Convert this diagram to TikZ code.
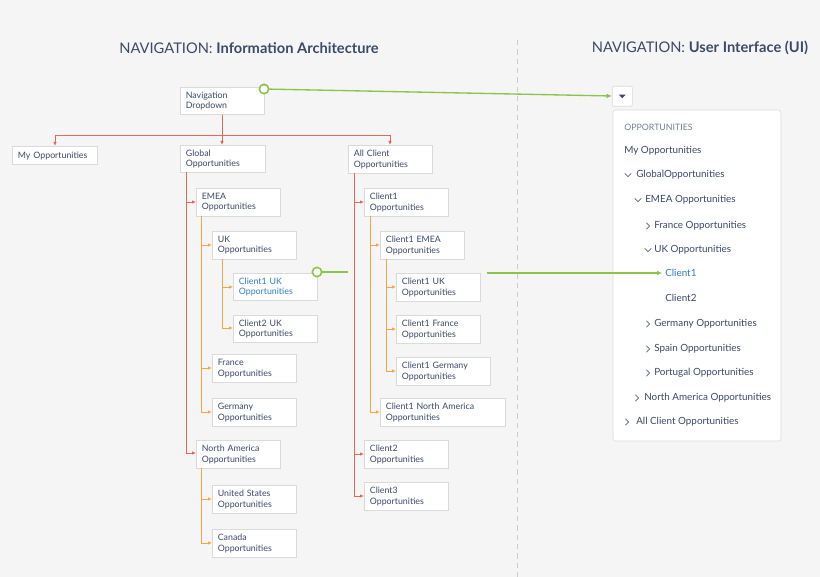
\documentclass[tikz,border=0pt]{standalone}
\usepackage{fontspec}
\setmainfont{Lato}
\newfontfamily\dejavu{DejaVu Sans}
\usetikzlibrary{arrows.meta}
\definecolor{bg}{HTML}{F5F5F5}
\definecolor{txt}{HTML}{3B4A66}
\definecolor{bl}{HTML}{2F7FC8}
\definecolor{rd}{HTML}{E2685A}
\definecolor{org}{HTML}{F3A64A}
\definecolor{grn}{HTML}{8CC34A}
\definecolor{bd}{HTML}{DADADA}
\begin{document}
\begin{tikzpicture}[x=0.75pt,y=-0.75pt,
 box/.style={draw=bd,line width=0.8pt,fill=white,anchor=north west,inner xsep=4pt,inner ysep=0pt,
   align=left,font=\fontsize{6.6}{7.6}\selectfont,text=txt,minimum height=20pt},
 rl/.style={draw=rd,line width=0.7pt},
 ol/.style={draw=org,line width=0.7pt},
 ra/.style={rl,-{Latex[length=3pt,width=2.6pt]}},
 oa/.style={ol,-{Latex[length=3pt,width=2.6pt]}},
 ga/.style={draw=grn,line width=1pt,-{Latex[length=4pt,width=3.5pt]}},
 gc/.style={circle,draw=grn,line width=1.2pt,fill=white,inner sep=0pt,minimum size=7pt},
 pt/.style={anchor=west,font=\fontsize{7.4}{8}\selectfont,text=txt,inner sep=0pt},
 chv/.style={draw=txt!85,line width=0.5pt},
 ttl/.style={font=\fontsize{11}{13}\selectfont,text=txt}]
\fill[bg] (0,0) rectangle (820,577);
\useasboundingbox (0,0) rectangle (820,577);
\draw[gray!40,dash pattern=on 4pt off 3pt,line width=0.6pt] (517,40) -- (517,577);
\node[ttl] (t1) at (249,48) {NAVIGATION: \textbf{Information Architecture}};
\node[ttl] (t2) at (700,48) {NAVIGATION: \textbf{User Interface (UI)}};
% boxes
\newcommand\bx[6]{\node[box,minimum width=#4*0.75pt,minimum height=#5*0.75pt,text width=#4*0.75pt-8pt] (#1) at (#2,#3) {#6};}
\newcommand\chr[2]{\draw[chv] (#1-1.6,#2-3.2) -- (#1+1.6,#2) -- (#1-1.6,#2+3.2);}
\newcommand\chd[2]{\draw[chv] (#1-3.2,#2-1.6) -- (#1,#2+1.6) -- (#1+3.2,#2-1.6);}
\bx{nav}{180}{87}{84}{27}{Navigation\\Dropdown}
\bx{my}{12}{146}{85}{18}{My Opportunities}
\bx{glob}{180}{145}{85}{27}{Global\\Opportunities}
\bx{allc}{348}{145}{84}{28}{All Client\\Opportunities}
\bx{emea}{196}{188}{84}{28}{EMEA\\Opportunities}
\bx{uk}{212}{231}{84}{28}{UK\\Opportunities}
\node[box,minimum width=63pt,minimum height=20.25pt,text width=55pt,text=bl] (c1uk) at (233,273) {Client1 UK\\Opportunities};
\bx{c2uk}{233}{315}{84}{27}{Client2 UK\\Opportunities}
\bx{fr}{212}{354}{84}{28}{France\\Opportunities}
\bx{ge}{212}{398}{84}{28}{Germany\\Opportunities}
\bx{na}{196}{440}{84}{28}{North America\\Opportunities}
\bx{us}{212}{485}{84}{28}{United States\\Opportunities}
\bx{ca}{212}{529}{84}{28}{Canada\\Opportunities}
\bx{c1}{364}{188}{84}{28}{Client1\\Opportunities}
\bx{c1e}{380}{231}{84}{28}{Client1 EMEA\\Opportunities}
\bx{c1u}{396}{273}{84}{28}{Client1 UK\\Opportunities}
\bx{c1f}{396}{315}{84}{28}{Client1 France\\Opportunities}
\bx{c1g}{396}{357}{94}{28}{Client1 Germany\\Opportunities}
\bx{c1n}{380}{398}{125}{28}{Client1 North America\\Opportunities}
\bx{c2}{364}{440}{84}{28}{Client2\\Opportunities}
\bx{c3}{364}{482}{84}{28}{Client3\\Opportunities}
% red top tree
\coordinate (h) at (222,135);
\draw[rl] (nav.south -| h) -- (h);
\draw[rl] (55,135) -- (390,135);
\draw[ra] (55,135) -- (my.north -| 55,0);
\draw[ra] (h) -- (glob.north -| h);
\draw[ra] (390,135) -- (allc.north -| 390,0);
% global
\draw[rl] (186,172) -- (186,453);
\draw[ra] (186,202) -- (emea.west |- 0,202);
\draw[ra] (186,453) -- (na.west |- 0,453);
\draw[ol] (201,216) -- (201,412);
\foreach \y/\n in {245/uk,368/fr,412/ge} \draw[oa] (201,\y) -- (\n.west |- 0,\y);
\draw[ol] (222,259) -- (222,328);
\foreach \y/\n in {287/c1uk,328/c2uk} \draw[oa] (222,\y) -- (\n.west |- 0,\y);
\draw[ol] (201,468) -- (201,543);
\foreach \y/\n in {499/us,543/ca} \draw[oa] (201,\y) -- (\n.west |- 0,\y);
% all client
\draw[rl] (354,173) -- (354,496);
\foreach \y/\n in {202/c1,454/c2,496/c3} \draw[ra] (354,\y) -- (\n.west |- 0,\y);
\draw[ol] (370,216) -- (370,412);
\foreach \y/\n in {245/c1e,412/c1n} \draw[oa] (370,\y) -- (\n.west |- 0,\y);
\draw[ol] (386,259) -- (386,371);
\foreach \y/\n in {287/c1u,329/c1f,371/c1g} \draw[oa] (386,\y) -- (\n.west |- 0,\y);
% UI panel
\node[draw=bd,fill=white,rounded corners=1pt,minimum width=15pt,minimum height=15pt,inner sep=0pt,anchor=north west] (btn) at (612,86) {};
\fill[txt] ([xshift=-2.5pt,yshift=1.2pt]btn.center) -- ([xshift=2.5pt,yshift=1.2pt]btn.center) -- ([yshift=-1.5pt]btn.center) -- cycle;
\draw[draw=bd,fill=white,rounded corners=2pt] (613,110) rectangle (781,441);
\node[pt,font=\fontsize{6.6}{7}\selectfont,text=txt!70] (po) at (624,127) {OPPORTUNITIES};
\node[pt] (p1) at (624,151) {My Opportunities};
\chd{628}{175} \node[pt] (p2) at (636,175) {GlobalOpportunities};
\chd{638}{200} \node[pt] (p3) at (645,200) {EMEA Opportunities};
\chr{648}{226} \node[pt] (p4) at (654,226) {France Opportunities};
\chd{648}{250} \node[pt] (p5) at (654,250) {UK Opportunities};
\node[pt,text=bl] (p6) at (665,273) {Client1};
\node[pt] (p7) at (665,298) {Client2};
\chr{648}{324} \node[pt] (p8) at (654,324) {Germany Opportunities};
\chr{648}{349} \node[pt] (p9) at (654,349) {Spain Opportunities};
\chr{648}{373} \node[pt] (p10) at (654,373) {Portugal Opportunities};
\chr{637}{398} \node[pt] (p11) at (644,398) {North America Opportunities};
\chr{627}{422} \node[pt] (p12) at (636,422) {All Client Opportunities};
% green links
\node[gc] (g1) at (264,89) {};
\draw[ga] (g1) -- (btn.west |- 0,96);
\node[gc] (g2) at (317,272) {};
\coordinate (g2e) at (348,272);
\draw[draw=grn,line width=1pt] (g2) -- (g2e);
\coordinate (g3) at (487,273);
\draw[ga] (g3) -- ([xshift=-2pt]p6.west);
\end{tikzpicture}
\end{document}
